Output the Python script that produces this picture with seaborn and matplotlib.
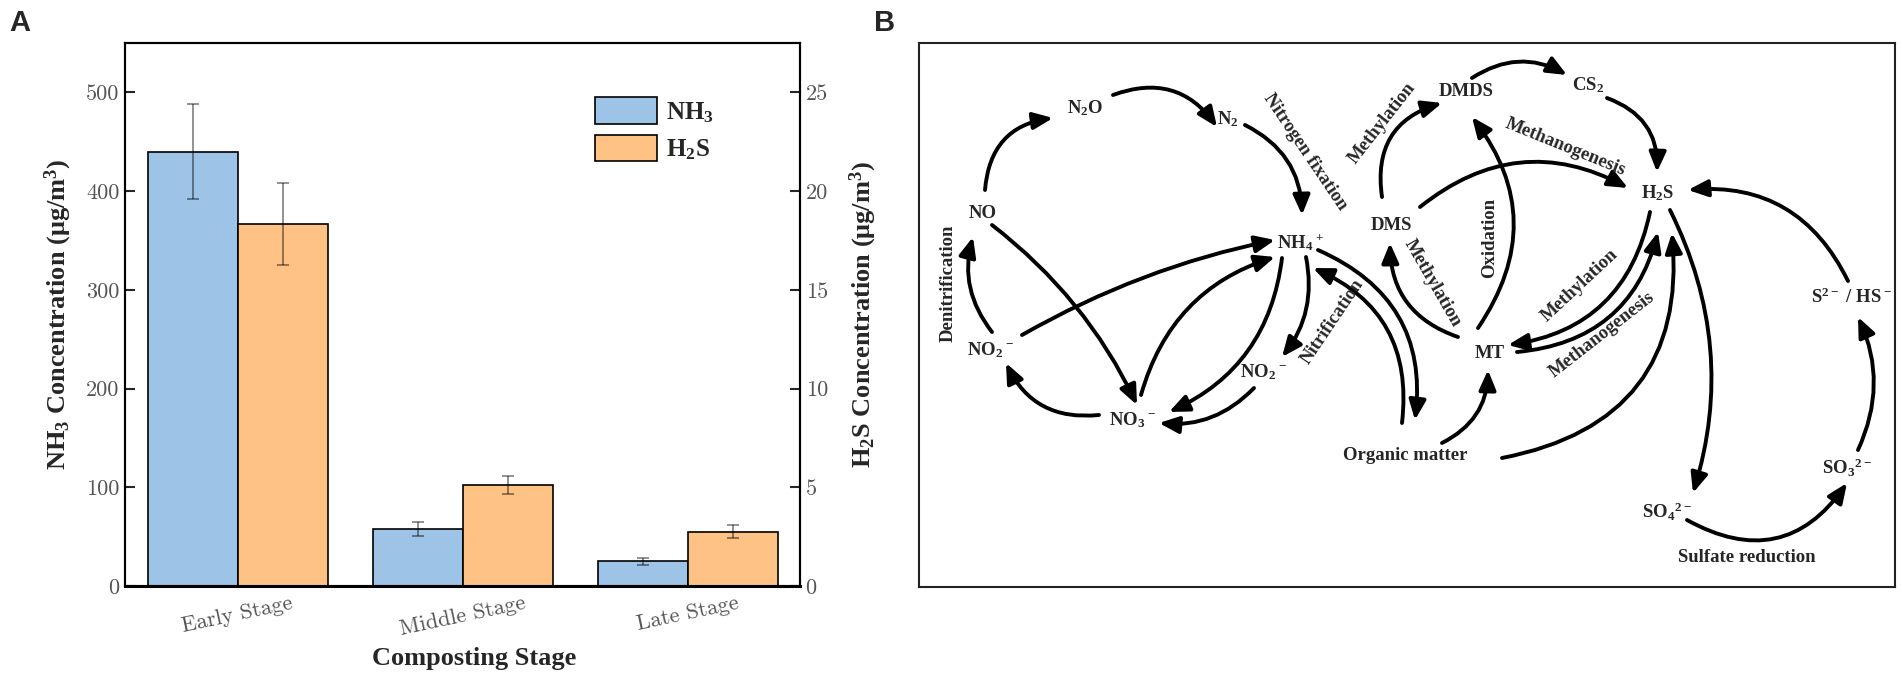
import matplotlib
matplotlib.use('Agg')
import pandas as pd
import matplotlib.pyplot as plt
import seaborn as sns
from matplotlib.patches import FancyArrowPatch, Patch

# ---- Panel A: gas concentrations per composting stage ----
stages = ['Early Stage', 'Middle Stage', 'Late Stage']
nh3_mean = [440, 58, 25]
nh3_sd = [48.5, 7.0, 3.3]
h2s_mean = [18.35, 5.12, 2.75]
h2s_sd = [2.07, 0.47, 0.32]
gases = ['NH3', 'H2S']
gas_labels = ['NH$_3$', 'H$_2$S']
gas_colors = ['#9DC3E6', '#FFC285']
nh3_ticks = [0, 100, 200, 300, 400, 500]
h2s_ticks = [0, 5, 10, 15, 20, 25]

# ---- Panel B: N / S cycle diagram (pixel positions of the drawing) ----
node_text = ['N$_2$O', 'N$_2$', 'NO', 'NO$_2$$^-$', 'NH$_4$$^+$', 'NO$_3$$^-$',
             'NO$_2$$^-$', 'Organic matter', 'DMDS', 'CS$_2$', 'DMS', 'H$_2$S',
             'MT', 'S$^{2-}$ / HS$^-$', 'SO$_4$$^{2-}$', 'SO$_3$$^{2-}$']
node_x = [1085, 1228, 983, 990, 1300, 1132, 1263, 1405, 1466, 1588, 1391, 1658,
          1490, 1852, 1667, 1847]
node_y = [108, 119, 213, 350, 243, 420, 372, 455, 92, 85, 225, 193, 353, 297,
          512, 468]

process_text = ['Nitrogen fixation', 'Denitrification', 'Methylation', 'Methanogenesis',
                'Oxidation', 'Methylation', 'Methylation', 'Methanogenesis',
                'Nitrification', 'Sulfate reduction']
process_x = [1305, 948, 1382, 1565, 1490, 1433, 1580, 1602, 1333, 1747]
process_y = [152, 283, 123, 147, 238, 283, 285, 335, 322, 558]
process_rot = [-56, 90, 52, -22, 90, -60, 43, 38, 56, 0]

# arrows: start, end, bend
arrow_x0 = [985, 1113, 1245, 992, 1022, 992, 1141, 1282, 1306, 1254, 1099, 1402, 1318,
            1382, 1472, 1607, 1420, 1478, 1458, 1650, 1517, 1442, 1502, 1670, 1687, 1858, 1848]
arrow_y0 = [190, 95, 125, 332, 335, 225, 395, 258, 257, 388, 415, 423, 250,
            197, 78, 98, 207, 328, 337, 212, 352, 443, 458, 210, 520, 450, 281]
arrow_x1 = [1053, 1217, 1302, 973, 1275, 1137, 1275, 1169, 1282, 1159, 1006, 1313, 1415,
            1442, 1567, 1657, 1628, 1472, 1390, 1508, 1658, 1488, 1672, 1693, 1847, 1858, 1688]
arrow_y1 = [118, 127, 215, 237, 240, 405, 257, 412, 357, 423, 363, 268, 420,
            103, 75, 172, 188, 117, 243, 345, 232, 370, 233, 493, 483, 317, 190]
arrow_rad = [-0.4, -0.38, -0.3, -0.25, -0.08, -0.12, -0.27, -0.28, -0.23, -0.24, -0.35, 0.37, -0.37,
             -0.43, -0.3, -0.36, -0.33, 0.36, -0.35, -0.35, 0.35, 0.3, 0.45, -0.2, 0.45, 0.23, 0.34]

sns.set_style('white')
plt.rcParams['font.family'] = ['Liberation Serif', 'DejaVu Serif']
plt.rcParams['mathtext.default'] = 'regular'

W, H = 1902, 683
fig = plt.figure(figsize=(W / 100, H / 100), dpi=100)


def px_axes(x0, y0, x1, y1):
    return fig.add_axes([x0 / W, 1 - y1 / H, (x1 - x0) / W, (y1 - y0) / H])


# ---------- Panel A ----------
ax = px_axes(125, 43, 800, 586)
pal = dict(zip(gases, gas_colors))
df_nh3 = pd.DataFrame({'stage': stages, 'gas': 'NH3', 'value': nh3_mean})
df_h2s = pd.DataFrame({'stage': stages, 'gas': 'H2S', 'value': h2s_mean})

sns.barplot(data=df_nh3, x='stage', y='value', hue='gas', hue_order=gases, palette=pal,
            dodge=True, saturation=1, edgecolor='black', linewidth=1.2, errorbar=None,
            legend=False, width=0.8, ax=ax)
ax2 = ax.twinx()
sns.barplot(data=df_h2s, x='stage', y='value', hue='gas', hue_order=gases, palette=pal,
            dodge=True, saturation=1, edgecolor='black', linewidth=1.2, errorbar=None,
            legend=False, width=0.8, ax=ax2)

for a, means, sds in [(ax, nh3_mean, nh3_sd), (ax2, h2s_mean, h2s_sd)]:
    bars = sorted(a.patches, key=lambda p: p.get_x())
    xs = [p.get_x() + p.get_width() / 2 for p in bars]
    a.errorbar(xs, means, yerr=sds, fmt='none', ecolor='black', alpha=0.5,
               elinewidth=1.2, capsize=4.3, capthick=1.2)

ax.set_ylim(0, 550)
ax2.set_ylim(0, 27.5)
ax.set_xlim(-0.5, 2.5)
tick_kw = dict(fontfamily='cmr10', fontsize=16, color='#555555')
ax.set_yticks(nh3_ticks, labels=[str(v) for v in nh3_ticks], **tick_kw)
ax2.set_yticks(h2s_ticks, labels=[str(v) for v in h2s_ticks], **tick_kw)
ax.set_xticks(range(len(stages)), labels=stages, rotation=12, ha='center', **tick_kw)
ax.tick_params(axis='x', length=0, pad=5)
ax.tick_params(axis='y', direction='in', length=7, width=1.5, pad=4)
ax2.tick_params(axis='y', direction='in', length=7, width=1.5, pad=4)

lab_kw = dict(fontsize=19, fontweight='bold', fontfamily='Liberation Serif')
ax.set_xlabel('Composting Stage', **lab_kw)
ax.set_ylabel('NH$_3$ Concentration (μg/m$^3$)', **lab_kw)
ax2.set_ylabel('H$_2$S Concentration (μg/m$^3$)', **lab_kw)
ax.xaxis.set_label_coords(0.517, -0.112)
ax.yaxis.set_label_coords(-0.075, 0.5)
ax2.yaxis.set_label_coords(1.07, 0.5)

for a in (ax, ax2):
    for s in a.spines.values():
        s.set_color('black')
        s.set_linewidth(1.5)
ax.spines['bottom'].set_linewidth(2.2)

handles = [Patch(facecolor=c, edgecolor='black', linewidth=1.2) for c in gas_colors]
ax2.legend(handles=handles, labels=gas_labels, loc='upper left', bbox_to_anchor=(0.696, 0.9),
           frameon=False, prop={'family': 'Liberation Serif', 'weight': 'bold', 'size': 18},
           handlelength=2.5, handleheight=1.25, labelspacing=0.4, handletextpad=0.35,
           borderpad=0, borderaxespad=0)

# ---------- Panel B ----------
axb = px_axes(919, 43, 1895, 587)
axb.set_xlim(919, 1895)
axb.set_ylim(587, 43)
axb.set_xticks([])
axb.set_yticks([])
for s in axb.spines.values():
    s.set_color('#222222')
    s.set_linewidth(1.5)

for t, x, y in zip(node_text, node_x, node_y):
    axb.text(x, y, t, ha='center', va='center', fontsize=13.5, fontweight='bold')

for t, x, y, r in zip(process_text, process_x, process_y, process_rot):
    axb.text(x, y, t, ha='center', va='center', rotation=r, rotation_mode='anchor',
             fontsize=13.5, fontweight='bold')

for x0, y0, x1, y1, r in zip(arrow_x0, arrow_y0, arrow_x1, arrow_y1, arrow_rad):
    axb.add_patch(FancyArrowPatch((x0, y0), (x1, y1), connectionstyle=f'arc3,rad={r}',
                                  arrowstyle='-|>,head_length=0.7,head_width=0.3',
                                  mutation_scale=17, lw=2.8, color='black',
                                  shrinkA=0, shrinkB=0))

fig.text(20 / W, 1 - 23 / H, 'A', fontsize=21, fontweight='bold', family='Liberation Sans',
         ha='center', va='center')
fig.text(885 / W, 1 - 23 / H, 'B', fontsize=21, fontweight='bold', family='Liberation Sans',
         ha='center', va='center')

fig.savefig('out.png', dpi=100)
